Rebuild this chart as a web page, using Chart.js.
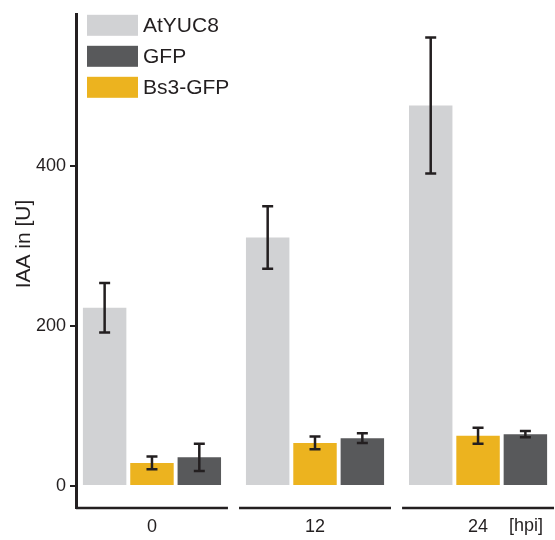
<!DOCTYPE html>
<html>
<head>
<meta charset="utf-8">
<script src="https://cdn.jsdelivr.net/npm/chart.js@4.4.1/dist/chart.umd.min.js"></script>
<style>
  html, body { margin: 0; padding: 0; background: #fff; }
</style>
</head>
<body>
<canvas id="chart" width="555" height="540"></canvas>
<script>
// data
const timepoints = ['0', '12', '24'];
const yucValues = [223, 311, 476];
const yucErrors = [31, 39, 85];
const bs3Values = [29, 54, 63];
const bs3Errors = [8, 8, 10];
const gfpValues = [36, 60, 65];
const gfpErrors = [17, 6, 4];
const yTicks = [0, 200, 400];
const legendOrder = ['AtYUC8', 'GFP', 'Bs3-GFP'];

const ink = '#231f20';
const fontFam = '"Liberation Sans", Arial, sans-serif';
Chart.defaults.font.family = fontFam;
Chart.defaults.color = ink;

function pts(vals) {
    return vals.map((v, i) => ({ x: i, y: v }));
}

// error bars on top of each bar
const errorBars = {
    id: 'errorBars',
    afterDatasetsDraw(chart) {
        const ctx = chart.ctx;
        const ys = chart.scales.y;
        chart.data.datasets.forEach((ds, di) => {
            const meta = chart.getDatasetMeta(di);
            meta.data.forEach((bar, i) => {
                const v = ds.data[i].y, e = ds.errors[i];
                const top = ys.getPixelForValue(v + e);
                const bot = ys.getPixelForValue(v - e);
                ctx.save();
                ctx.strokeStyle = ink;
                ctx.lineWidth = 2.5;
                ctx.beginPath();
                ctx.moveTo(bar.x, top); ctx.lineTo(bar.x, bot);
                ctx.moveTo(bar.x - 5.5, top); ctx.lineTo(bar.x + 5.5, top);
                ctx.moveTo(bar.x - 5.5, bot); ctx.lineTo(bar.x + 5.5, bot);
                ctx.stroke();
                ctx.restore();
            });
        });
    }
};

// broken x axis, legend, axis titles
const extras = {
    id: 'extras',
    afterDraw(chart) {
        const ctx = chart.ctx;
        const xs = chart.scales.x;
        const area = chart.chartArea;
        ctx.save();
        ctx.strokeStyle = ink;
        ctx.lineWidth = 2.5;
        timepoints.forEach((t, i) => {
            ctx.beginPath();
            ctx.moveTo(xs.getPixelForValue(i - 0.466), area.bottom);
            ctx.lineTo(xs.getPixelForValue(i + 0.466), area.bottom);
            ctx.stroke();
        });

        ctx.fillStyle = ink;
        ctx.font = '18px ' + fontFam;
        ctx.textBaseline = 'middle';
        ctx.textAlign = 'left';
        ctx.fillText('[hpi]', xs.getPixelForValue(2) + 31, 526);

        // y title
        ctx.save();
        ctx.translate(24, 244);
        ctx.rotate(-Math.PI / 2);
        ctx.textAlign = 'center';
        ctx.font = '21px ' + fontFam;
        ctx.fillText('IAA in [U]', 0, 0);
        ctx.restore();

        // legend
        ctx.font = '21px ' + fontFam;
        legendOrder.forEach((name, k) => {
            const ds = chart.data.datasets.find(d => d.label === name);
            const bx = area.left + 11, by = area.top + k * 31;
            ctx.fillStyle = ds.backgroundColor;
            ctx.fillRect(bx, by, 51, 21);
            ctx.fillStyle = ink;
            ctx.fillText(name, bx + 56, by + 11);
        });
        ctx.restore();
    }
};

new Chart(document.getElementById('chart'), {
    type: 'bar',
    data: {
        datasets: [
            { label: 'AtYUC8', data: pts(yucValues), errors: yucErrors, backgroundColor: '#d1d2d4' },
            { label: 'Bs3-GFP', data: pts(bs3Values), errors: bs3Errors, backgroundColor: '#ecb31f' },
            { label: 'GFP', data: pts(gfpValues), errors: gfpErrors, backgroundColor: '#58595b' }
        ]
    },
    options: {
        responsive: false,
        animation: false,
        devicePixelRatio: 1,
        categoryPercentage: 0.871,
        barPercentage: 0.918,
        layout: { padding: { top: 13, right: 0, left: 0, bottom: 0 } },
        plugins: { legend: { display: false }, tooltip: { enabled: false } },
        scales: {
            x: {
                type: 'linear',
                offset: false,
                min: -0.466,
                max: 2.472,
                afterBuildTicks: s => { s.ticks = timepoints.map((t, i) => ({ value: i })); },
                afterFit: s => { s.height = 32; },
                ticks: {
                    callback: v => timepoints[v],
                    font: { size: 18 },
                    padding: 8,
                    autoSkip: false,
                    maxRotation: 0
                },
                grid: { display: false, drawTicks: false, offset: false },
                border: { display: false }
            },
            y: {
                min: -27.4,
                max: 589.5,
                afterBuildTicks: s => { s.ticks = yTicks.map(v => ({ value: v })); },
                afterFit: s => { s.width = 76; },
                ticks: { font: { size: 18 }, padding: 4 },
                grid: { drawOnChartArea: false, tickLength: 6, color: ink, lineWidth: 2 },
                border: { color: ink, width: 3 }
            }
        }
    },
    plugins: [errorBars, extras]
});
</script>
</body>
</html>
